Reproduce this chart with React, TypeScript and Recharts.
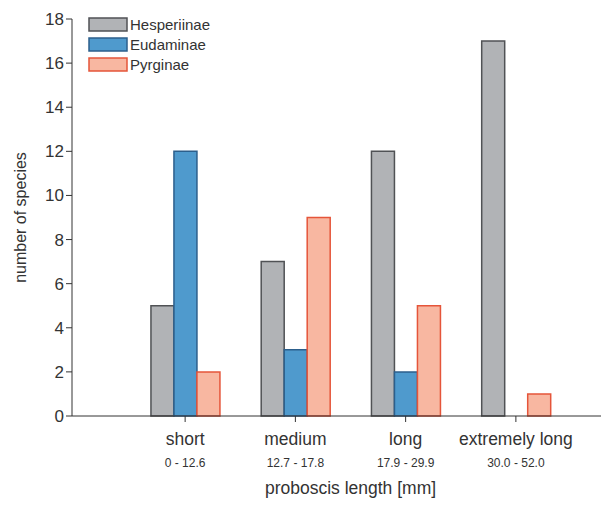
import React from "react";
import { BarChart, Bar, XAxis, YAxis, Label } from "recharts";

const categories = ["short", "medium", "long", "extremely long"];
const ranges = ["0 - 12.6", "12.7 - 17.8", "17.9 - 29.9", "30.0 - 52.0"];
const hesperiinae = [5, 7, 12, 17];
const eudaminae = [12, 3, 2, 0];
const pyrginae = [2, 9, 5, 1];
const yTicks = [0, 2, 4, 6, 8, 10, 12, 14, 16, 18];

const SERIES = [
  { key: "Hesperiinae", fill: "#b1b3b6", stroke: "#505255" },
  { key: "Eudaminae", fill: "#4f9acd", stroke: "#2c5f8c" },
  { key: "Pyrginae", fill: "#f8b7a1", stroke: "#e5553a" },
];

const data = categories.map((name, i) => ({
  name,
  range: ranges[i],
  Hesperiinae: hesperiinae[i],
  Eudaminae: eudaminae[i],
  Pyrginae: pyrginae[i],
}));

const FONT = "Liberation Sans, Arial, sans-serif";
const TEXT = "#333333";

const CategoryTick = (props: any) => {
  const { x, y, payload, index } = props;
  return (
    <g>
      <text x={x} y={y + 21} textAnchor="middle" fontSize={17.5} fill={TEXT} fontFamily={FONT}>
        {payload.value}
      </text>
      <text x={x} y={y + 43} textAnchor="middle" fontSize={12} fill={TEXT} fontFamily={FONT}>
        {ranges[index]}
      </text>
    </g>
  );
};

const LegendBox = () => (
  <g>
    {SERIES.map((s, i) => (
      <g key={s.key}>
        <rect x={89} y={18 + i * 20} width={38} height={13} fill={s.fill} stroke={s.stroke} strokeWidth={1.5} />
        <text x={130} y={30 + i * 20} fontSize={15} fill={TEXT} fontFamily={FONT}>
          {s.key}
        </text>
      </g>
    ))}
  </g>
);

export default function App() {
  return (
    <div style={{ position: "absolute", left: 0, top: 0, background: "#fff" }}>
      <BarChart
        width={601}
        height={507}
        data={data}
        margin={{ top: 19, right: 0, left: 0, bottom: 0 }}
        barCategoryGap="19%"
        barGap={0}
      >
        <YAxis
          width={72}
          domain={[0, 18]}
          ticks={yTicks}
          interval={0}
          tickSize={6}
          tick={{ fontSize: 17, fill: TEXT, fontFamily: FONT }}
          stroke="#333"
          tickLine={{ stroke: "#333" }}
        >
          <Label
            value="number of species"
            angle={-90}
            position="center"
            dx={-16}
            style={{ fontSize: 16, fill: TEXT, fontFamily: FONT }}
          />
        </YAxis>
        <XAxis
          dataKey="name"
          height={91}
          padding={{ left: 58, right: 30 }}
          tickSize={6}
          tick={<CategoryTick />}
          interval={0}
          stroke="#333"
          tickLine={{ stroke: "#333" }}
        >
          <Label
            value="proboscis length [mm]"
            position="center"
            dx={14}
            dy={26}
            style={{ fontSize: 17.5, fill: TEXT, fontFamily: FONT }}
          />
        </XAxis>
        {SERIES.map((s) => (
          <Bar
            key={s.key}
            dataKey={s.key}
            fill={s.fill}
            stroke={s.stroke}
            strokeWidth={1.5}
            isAnimationActive={false}
          />
        ))}
        <LegendBox />
      </BarChart>
    </div>
  );
}
